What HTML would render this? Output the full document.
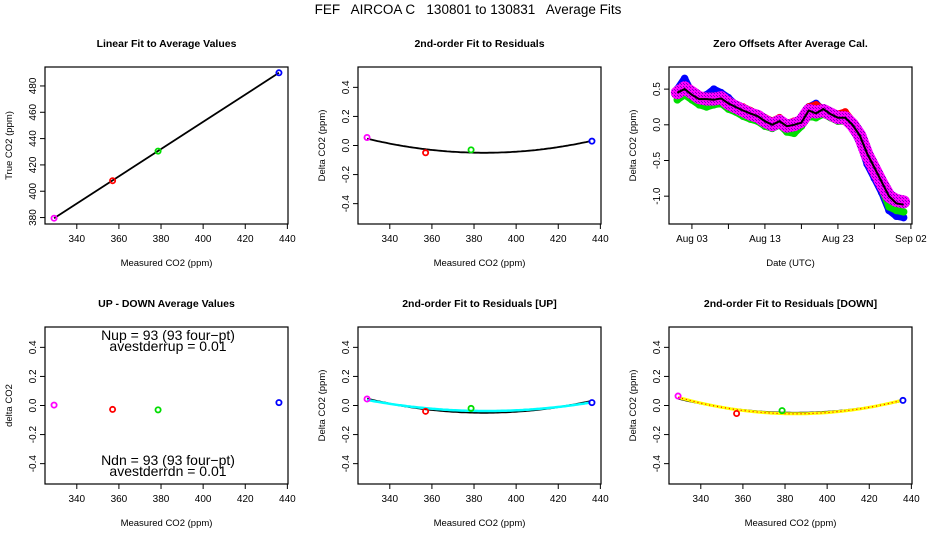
<!DOCTYPE html>
<html><head><meta charset="utf-8"><style>
html,body{margin:0;padding:0;background:#fff;}
svg{display:block;font-family:"Liberation Sans",sans-serif;}
</style></head><body>
<svg id="chart" width="936" height="540" viewBox="0 0 936 540" xmlns="http://www.w3.org/2000/svg">
<defs>
<pattern id="hatch" width="3" height="3" patternUnits="userSpaceOnUse">
<rect width="3" height="3" fill="#ff00ff"/>
<rect width="1" height="1" fill="#8000c0"/>
<rect x="2" y="2" width="1" height="1" fill="#8000c0"/>
</pattern>
</defs>
<rect width="936" height="540" fill="#fff"/>
<text x="468" y="14" font-size="13.5" text-anchor="middle" xml:space="preserve">FEF   AIRCOA C   130801 to 130831   Average Fits</text>
</svg>
<script>
// ---- data ----
var measuredCO2 = [329.2, 357.0, 378.6, 436.0];
var trueCO2 = [379.5, 408.0, 430.5, 490.0];
var pointColors = ["#ff00ff", "#ff0000", "#00dd00", "#0000ff"];
var residAll = [0.055, -0.05, -0.03, 0.03];
var diffUpDown = [0.003, -0.027, -0.03, 0.02];
var residUp = [0.045, -0.04, -0.02, 0.02];
var residDown = [0.065, -0.055, -0.035, 0.035];
var co2Ticks = [340, 360, 380, 400, 420, 440];
var trueTicks = [380, 400, 420, 440, 460, 480];
var residTicks = [-0.4, -0.2, 0.0, 0.2, 0.4];
var residTickLabels = ["-0.4", "-0.2", "0.0", "0.2", "0.4"];
var zeroTicks = [-1.0, -0.5, 0.0, 0.5];
var zeroTickLabels = ["-1.0", "-0.5", "0.0", "0.5"];
var dateTicks = [2, 7, 12, 17, 22, 27, 32];
var dateTickLabels = ["Aug 03", "", "Aug 13", "", "Aug 23", "", "Sep 02"];
var days = [0,1,2,3,4,5,6,7,8,9,10,11,12,13,14,15,16,17,18,19,20,21,22,23,24,25,26,27,28,29,30,31];
var zeroBlack = [0.45,0.5,0.42,0.36,0.36,0.35,0.37,0.3,0.25,0.2,0.16,0.12,0.05,0.0,0.05,-0.02,0.0,0.03,0.2,0.16,0.22,0.15,0.1,0.1,0.0,-0.15,-0.4,-0.6,-0.8,-1.0,-1.1,-1.12];
var zeroBlue = [0.5,0.65,0.45,0.4,0.42,0.5,0.45,0.38,0.28,0.2,0.15,0.1,0.0,-0.05,0.0,-0.08,-0.05,0.05,0.25,0.3,0.2,0.12,0.1,0.15,-0.05,-0.25,-0.55,-0.75,-0.95,-1.2,-1.28,-1.3];
var zeroRed = [0.45,0.55,0.48,0.42,0.4,0.4,0.38,0.35,0.28,0.25,0.2,0.15,0.1,0.05,0.1,0.02,0.05,0.08,0.25,0.28,0.22,0.18,0.15,0.18,0.05,-0.1,-0.38,-0.58,-0.78,-0.98,-1.08,-1.1];
var zeroGreen = [0.35,0.42,0.35,0.28,0.25,0.28,0.3,0.22,0.18,0.12,0.08,0.05,-0.02,-0.05,0.0,-0.1,-0.12,-0.02,0.12,0.1,0.15,0.1,0.05,0.05,-0.05,-0.22,-0.5,-0.7,-0.9,-1.15,-1.2,-1.22];
var zeroMagenta = [0.45,0.52,0.45,0.38,0.36,0.36,0.38,0.3,0.25,0.2,0.15,0.12,0.05,0.0,0.05,-0.02,0.0,0.05,0.2,0.18,0.2,0.15,0.1,0.1,0.0,-0.15,-0.42,-0.62,-0.82,-1.0,-1.06,-1.08];

var NS = "http://www.w3.org/2000/svg";
var svg = document.getElementById("chart");
function mk(tag, attrs, parent) {
  var e = document.createElementNS(NS, tag);
  for (var k in attrs) e.setAttribute(k, attrs[k]);
  (parent || svg).appendChild(e);
  return e;
}
function scale(d0, d1, r0, r1) { return function (v) { return r0 + (v - d0) * (r1 - r0) / (d1 - d0); }; }
function fitQuad(xs, ys) {
  var S = [[0,0,0],[0,0,0],[0,0,0]], R = [0,0,0];
  for (var i = 0; i < xs.length; i++) {
    var t = xs[i] - 380, p = [1, t, t * t];
    for (var r = 0; r < 3; r++) { R[r] += p[r] * ys[i]; for (var c = 0; c < 3; c++) S[r][c] += p[r] * p[c]; }
  }
  for (var k = 0; k < 3; k++) {
    for (var j = k + 1; j < 3; j++) {
      var f = S[j][k] / S[k][k];
      for (var c2 = k; c2 < 3; c2++) S[j][c2] -= f * S[k][c2];
      R[j] -= f * R[k];
    }
  }
  var co = [0,0,0];
  for (var k2 = 2; k2 >= 0; k2--) {
    var s = R[k2];
    for (var c3 = k2 + 1; c3 < 3; c3++) s -= S[k2][c3] * co[c3];
    co[k2] = s / S[k2][k2];
  }
  return function (x) { var t = x - 380; return co[0] + co[1] * t + co[2] * t * t; };
}

function panel(opt) {
  var g = mk("g", {});
  
  
  var L = opt.L, T = opt.T, W = 243, H = 157;
  var sx = scale(opt.xd[0], opt.xd[1], L, L + W);
  var sy = scale(opt.yd[0], opt.yd[1], T + H, T);
  var title = mk("text", {x: L + W / 2, y: T - 20, "font-size": 10.5, "font-weight": "bold", "text-anchor": "middle"}, g);
  title.textContent = opt.title;
  
  
  var xl = mk("text", {x: L + W / 2, y: T + H + 42, "font-size": 9.5, "text-anchor": "middle"}, g);
  xl.textContent = opt.xlab;
  
  
  var ylx = L - 33, yly = T + H / 2;
  var yl = mk("text", {x: ylx, y: yly, "font-size": 9.5, "text-anchor": "middle", transform: "rotate(-90 " + ylx + " " + yly + ")"}, g);
  yl.textContent = opt.ylab;
  
  
  var plot = mk("g", {}, g);
  
  
  opt.draw(plot, sx, sy, L, T, W, H);
  var box = mk("rect", {x: L, y: T, width: W, height: H, fill: "none", stroke: "#000", "stroke-width": 1.2}, g);
  
  
  opt.xt.forEach(function (v, i) {
    var px = sx(v);
    var tk = mk("line", {x1: px, x2: px, y1: T + H, y2: T + H + 5, stroke: "#000"}, g);
    
    
    var lab = opt.xtl ? opt.xtl[i] : String(v);
    if (lab) {
      var tx = mk("text", {x: px, y: T + H + 18, "font-size": 10, "text-anchor": "middle"}, g);
      tx.textContent = lab;
      
      
    }
  });
  opt.yt.forEach(function (v, i) {
    var py = sy(v);
    var tk = mk("line", {x1: L - 5, x2: L, y1: py, y2: py, stroke: "#000"}, g);
    
    
    var tx0 = L - 9;
    var tx = mk("text", {x: tx0, y: py, "font-size": 10, "text-anchor": "middle", transform: "rotate(-90 " + tx0 + " " + py + ")"}, g);
    tx.textContent = opt.ytl ? opt.ytl[i] : String(v);
    
    
  });
}
function points(g, sx, sy, xs, ys) {
  xs.forEach(function (x, i) {
    var c = mk("circle", {cx: sx(x), cy: sy(ys[i]), r: 2.6, fill: "none", stroke: pointColors[i], "stroke-width": 1.8}, g);
    
    
  });
}
function curve(g, sx, f, sy, color, width, dash) {
  var d = "";
  for (var x = 329.2; x <= 436.01; x += 1) d += (d ? "L" : "M") + sx(x).toFixed(1) + "," + sy(f(x)).toFixed(1);
  var p = mk("path", {d: d, fill: "none", stroke: color, "stroke-width": width}, g);
  if (dash) p.setAttribute("stroke-dasharray", dash);
  
  
}
var XD = [324.9, 440.3], RD = [-0.54, 0.54];
var fitAll = fitQuad(measuredCO2, residAll);

panel({name: "linear-fit-panel", L: 45, T: 67, xd: XD, yd: [375.1, 494.4], xt: co2Ticks, yt: trueTicks,
  title: "Linear Fit to Average Values", xlab: "Measured CO2 (ppm)", ylab: "True CO2 (ppm)",
  draw: function (g, sx, sy) {
    var n = measuredCO2.length;
    var l = mk("line", {x1: sx(measuredCO2[0]), y1: sy(trueCO2[0]), x2: sx(measuredCO2[n - 1]), y2: sy(trueCO2[n - 1]), stroke: "#000", "stroke-width": 1.8}, g);
    
    
    points(g, sx, sy, measuredCO2, trueCO2);
  }});

panel({name: "residual-fit-panel", L: 358, T: 67, xd: XD, yd: RD, xt: co2Ticks, yt: residTicks, ytl: residTickLabels,
  title: "2nd-order Fit to Residuals", xlab: "Measured CO2 (ppm)", ylab: "Delta CO2 (ppm)",
  draw: function (g, sx, sy) { curve(g, sx, fitAll, sy, "#000", 1.8); points(g, sx, sy, measuredCO2, residAll); }});

panel({name: "zero-offsets-panel", L: 669, T: 67, xd: [-1.14, 32.15], yd: [-1.39, 0.81], xt: dateTicks, xtl: dateTickLabels, yt: zeroTicks, ytl: zeroTickLabels,
  title: "Zero Offsets After Average Cal.", xlab: "Date (UTC)", ylab: "Delta CO2 (ppm)",
  draw: function (g, sx, sy) {
    var series = [[zeroBlue, "#0000ff", 7, "series-blue"], [zeroGreen, "#00dd00", 7, "series-green"], [zeroRed, "#ff0000", 7, "series-red"], [zeroMagenta, "url(#hatch)", 13, "series-magenta"]];
    series.forEach(function (s) {
      var sg = mk("g", {}, g);
      
      
      var d = "";
      days.forEach(function (dd, i) { d += (i ? "L" : "M") + sx(dd).toFixed(1) + "," + sy(s[0][i]).toFixed(1); });
      mk("path", {d: d, fill: "none", stroke: s[1], "stroke-width": s[2], "stroke-linejoin": "round", "stroke-linecap": "round"}, sg);
      if (s[3] !== "series-magenta") {
        days.forEach(function (dd, i) {
          var c = mk("circle", {cx: sx(dd), cy: sy(s[0][i]), r: 3, fill: "none", stroke: s[1], "stroke-width": 1.6}, sg);
          
          
        });
      }
    });
    var d2 = "";
    days.forEach(function (dd, i) { d2 += (i ? "L" : "M") + sx(dd).toFixed(1) + "," + sy(zeroBlack[i]).toFixed(1); });
    var bl = mk("path", {d: d2, fill: "none", stroke: "#000", "stroke-width": 2}, g);
    
    
  }});

panel({name: "up-down-panel", L: 45, T: 327, xd: XD, yd: RD, xt: co2Ticks, yt: residTicks, ytl: residTickLabels,
  title: "UP - DOWN Average Values", xlab: "Measured CO2 (ppm)", ylab: "delta CO2",
  draw: function (g, sx, sy, L, T, W, H) {
    var lines = [["Nup = 93 (93 four\u2212pt)", T + 13], ["avestderrup =  0.01", T + 24], ["Ndn = 93 (93 four\u2212pt)", T + 138], ["avestderrdn =  0.01", T + 149]];
    lines.forEach(function (ln) {
      var t = mk("text", {x: L + 123, y: ln[1], "font-size": 14, "text-anchor": "middle", "xml:space": "preserve"}, g);
      t.textContent = ln[0];
      
      
    });
    points(g, sx, sy, measuredCO2, diffUpDown);
  }});

panel({name: "residual-up-panel", L: 358, T: 327, xd: XD, yd: RD, xt: co2Ticks, yt: residTicks, ytl: residTickLabels,
  title: "2nd-order Fit to Residuals [UP]", xlab: "Measured CO2 (ppm)", ylab: "Delta CO2 (ppm)",
  draw: function (g, sx, sy) {
    curve(g, sx, fitAll, sy, "#000", 1.8);
    curve(g, sx, fitQuad(measuredCO2, residUp), sy, "#00ffff", 2.5);
    points(g, sx, sy, measuredCO2, residUp);
  }});

panel({name: "residual-down-panel", L: 669, T: 327, xd: XD, yd: RD, xt: co2Ticks, yt: residTicks, ytl: residTickLabels,
  title: "2nd-order Fit to Residuals [DOWN]", xlab: "Measured CO2 (ppm)", ylab: "Delta CO2 (ppm)",
  draw: function (g, sx, sy) {
    var f = fitQuad(measuredCO2, residDown);
    curve(g, sx, fitAll, sy, "#000", 1.8);
    curve(g, sx, f, sy, "#ffff00", 3);
    curve(g, sx, f, sy, "#ff0000", 1.2, "1 3");
    points(g, sx, sy, measuredCO2, residDown);
  }});
</script>
</body></html>
